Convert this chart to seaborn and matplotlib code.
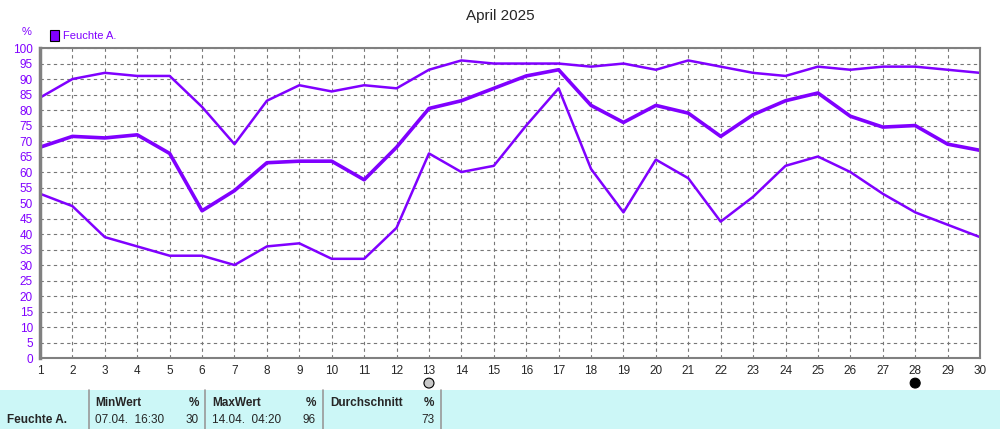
import numpy as np
import pandas as pd
import matplotlib
matplotlib.use("Agg")
import matplotlib.pyplot as plt
import seaborn as sns

days = list(range(1, 31))
hum_max = [84, 90, 92, 91, 91, 81, 69, 83, 88, 86, 88, 87, 93, 96, 95, 95, 95, 94, 95, 93,
           96, 94, 92, 91, 94, 93, 94, 94, 93, 92]
hum_mean = [68, 71.5, 71, 72, 66, 47.5, 54, 63, 63.5, 63.5, 57.5, 68, 80.5, 83, 87, 91, 93, 81.5,
            76, 81.5, 79, 71.5, 78.5, 83, 85.5, 78, 74.5, 75, 69, 67]
hum_min = [53, 49, 39, 36, 33, 33, 30, 36, 37, 32, 32, 42, 66, 60, 62, 75, 87, 61, 47, 64,
           58, 44, 52, 62, 65, 60, 53, 47, 43, 39]
y_ticks = list(range(0, 101, 5))
PURPLE = "#8000ff"

sns.set_style("white")
plt.rcParams["font.family"] = ["Liberation Sans", "DejaVu Sans"]

fig = plt.figure(figsize=(10, 4.29), dpi=100)
ax = fig.add_axes([0.04, 0.1655, 0.94, 0.7225])
df = pd.DataFrame({"day": days, "max": hum_max, "mean": hum_mean, "min": hum_min})
sns.lineplot(data=df, x="day", y="max", ax=ax, color=PURPLE, lw=1.8)
sns.lineplot(data=df, x="day", y="mean", ax=ax, color=PURPLE, lw=2.6)
sns.lineplot(data=df, x="day", y="min", ax=ax, color=PURPLE, lw=1.8)

ax.set_xlim(1, 30)
ax.set_ylim(0, 100)
ax.set_xticks(days)
ax.set_yticks(y_ticks)
ax.tick_params(axis="x", labelsize=8.5, length=3, pad=2)
ax.tick_params(axis="y", labelsize=8.5, labelcolor=PURPLE, length=3, pad=2)
ax.set_xlabel("")
ax.set_ylabel("")
ax.grid(True, color="#777777", ls=(0, (3, 3)), lw=0.8)
for s in ax.spines.values():
    s.set_color("#808080")
    s.set_linewidth(1.5)
ax.spines["left"].set_linewidth(2.5)

fig.text(0.5, 0.962, "April 2025", ha="center", va="center", fontsize=11)
fig.text(0.027, 0.925, "%", color=PURPLE, fontsize=8, ha="center", va="center")
fig.patches.append(plt.Rectangle((0.05, 0.905), 0.009, 0.025, transform=fig.transFigure,
                                 facecolor=PURPLE, edgecolor="black", lw=0.8))
fig.text(0.063, 0.917, "Feuchte A.", color=PURPLE, fontsize=8, va="center")

# markers under day 13 and 28
for d, fc in [(13, "#c8c8c8"), (28, "black")]:
    xf = 0.04 + 0.94 * (d - 1) / 29
    fig.patches.append(matplotlib.patches.Ellipse((xf, 0.107), 0.01, 0.023, transform=fig.transFigure,
                                                  facecolor=fc, edgecolor="black", lw=0.8))

# summary table
fig.patches.append(plt.Rectangle((0, 0), 1, 39 / 429, transform=fig.transFigure,
                                 facecolor="#ccf7f7", edgecolor="none"))
for xp in [89, 205, 323, 441]:
    fig.add_artist(plt.Line2D([xp / 1000] * 2, [0, 39 / 429], color="#999999", lw=1.2))
fy1, fy2 = 0.061, 0.02
fig.text(0.007, fy2, "Feuchte A.", fontsize=8.5, weight="bold", va="center")
fig.text(0.095, fy1, "MinWert", fontsize=8.5, weight="bold", va="center")
fig.text(0.199, fy1, "%", fontsize=8.5, weight="bold", va="center", ha="right")
fig.text(0.095, fy2, "07.04.  16:30", fontsize=8.5, va="center")
fig.text(0.199, fy2, "30", fontsize=8.5, va="center", ha="right")
fig.text(0.212, fy1, "MaxWert", fontsize=8.5, weight="bold", va="center")
fig.text(0.316, fy1, "%", fontsize=8.5, weight="bold", va="center", ha="right")
fig.text(0.212, fy2, "14.04.  04:20", fontsize=8.5, va="center")
fig.text(0.316, fy2, "96", fontsize=8.5, va="center", ha="right")
fig.text(0.330, fy1, "Durchschnitt", fontsize=8.5, weight="bold", va="center")
fig.text(0.434, fy1, "%", fontsize=8.5, weight="bold", va="center", ha="right")
fig.text(0.434, fy2, "73", fontsize=8.5, va="center", ha="right")

fig.savefig("out.png", dpi=100)
